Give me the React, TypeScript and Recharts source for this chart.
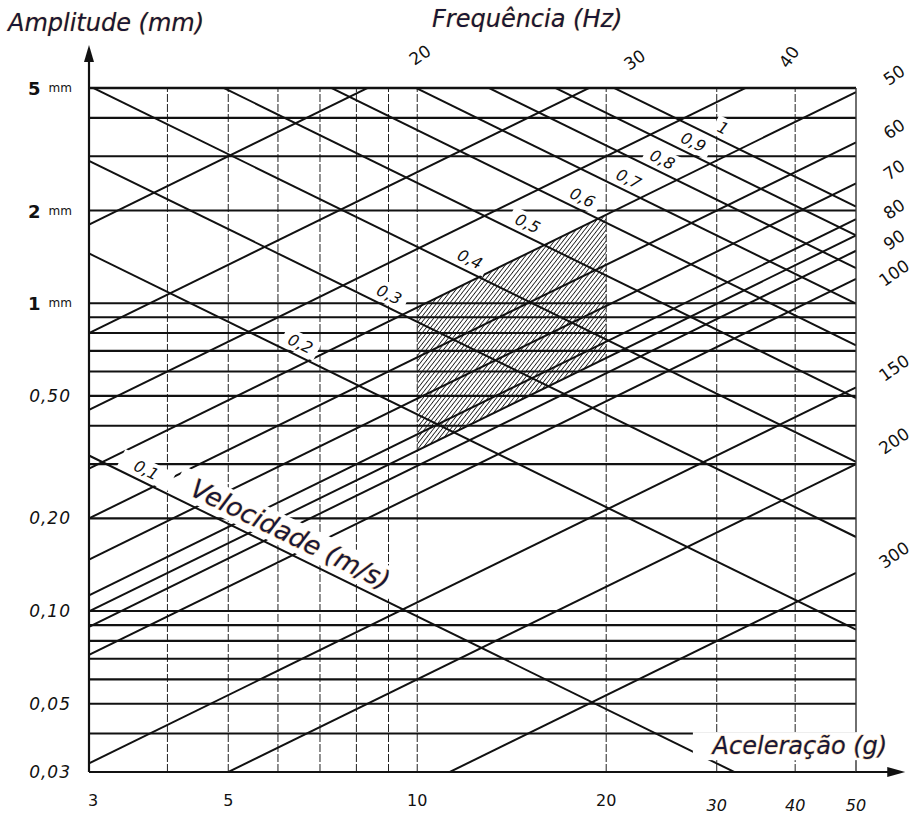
import { ComposedChart, Area, XAxis, YAxis, ReferenceLine, ReferenceDot } from 'recharts';

const ACCEL_MIN = 3;
const ACCEL_MAX = 50;
const AMP_MIN = 0.03;
const AMP_MAX = 5;

// acceleration (g)
const ACCEL_TICKS = [3, 5, 10, 20, 30, 40, 50];
const ACCEL_GRID = [4, 5, 6, 7, 8, 9, 10, 20, 30, 40];

// amplitude (mm)
const AMP_TICKS = [5, 2, 1, 0.5, 0.2, 0.1, 0.05, 0.03];
const AMP_TICK_LABELS = ['5 mm', '2 mm', '1 mm', '0,50', '0,20', '0,10', '0,05', '0,03'];
const AMP_GRID = [5, 4, 3, 2, 1, 0.9, 0.8, 0.7, 0.6, 0.5, 0.4, 0.3, 0.2, 0.1, 0.09, 0.08, 0.07, 0.06, 0.05, 0.04, 0.03];

// velocity lines (m/s): amplitude where each line meets 3 g and 50 g
const VEL_LABELS = ['0,1', '0,2', '0,3', '0,4', '0,5', '0,6', '0,7', '0,8', '0,9', '1'];
const VEL_AMP_AT_3G = [0.32, 1.45, 2.9, 5.08, 8.2, 12.17, 16.6, 21.7, 27.7, 34.3];
const VEL_AMP_AT_50G = [0.0192, 0.087, 0.174, 0.305, 0.492, 0.73, 0.996, 1.3, 1.66, 2.06];
const VEL_LABEL_ACCEL = [3.63, 6.39, 8.85, 11.9, 14.7, 17.97, 21.3, 24.1, 27.0, 30.1];

// frequency lines (Hz): amplitude where each line meets 3 g and 50 g
const FREQUENCIES = [20, 30, 40, 50, 60, 70, 80, 85, 90, 100, 150, 200, 300];
const FREQ_AMP_AT_3G = [1.8, 0.8, 0.45, 0.29, 0.2, 0.147, 0.1125, 0.0997, 0.0889, 0.072, 0.032, 0.018, 0.008];
const FREQ_AMP_AT_50G = [30, 13.3, 7.5, 4.85, 3.33, 2.45, 1.875, 1.66, 1.48, 1.2, 0.533, 0.3, 0.133];

// frequency labels outside the frame (top and right)
const FREQ_LABELS = ['20', '30', '40', '50', '60', '70', '80', '90', '100', '150', '200', '300'];
const FREQ_LABEL_ACCEL = [10.1, 22.2, 39.1, 57.5, 57.5, 57.5, 57.5, 57.5, 57.5, 57.5, 57.5, 57.5];
const FREQ_LABEL_AMP = [6.4, 6.17, 6.31, 5.51, 3.68, 2.71, 2.02, 1.605, 1.254, 0.616, 0.357, 0.152];

// hatched zone
const SHADE_ACCEL = [10, 20];
const SHADE_FREQ_TOP = 50;
const SHADE_FREQ_BOTTOM = 85;

const HAND = '"DejaVu Sans", sans-serif';
const INK = '#111';
const NAVY = '#16163a';

const onLine = (a: number, y3: number, y50: number) => {
  const t = Math.log(a / ACCEL_MIN) / Math.log(ACCEL_MAX / ACCEL_MIN);
  return Math.exp(Math.log(y3) + t * Math.log(y50 / y3));
};

const freqAmp = (f: number, a: number) => {
  const i = FREQUENCIES.indexOf(f);
  return onLine(a, FREQ_AMP_AT_3G[i], FREQ_AMP_AT_50G[i]);
};

const shadeData = SHADE_ACCEL.map((a) => ({
  a,
  band: [freqAmp(SHADE_FREQ_BOTTOM, a), freqAmp(SHADE_FREQ_TOP, a)],
}));

function Tag(props: any) {
  const { cx, cy, text, angle = 0, size = 14, dy = 0, bg = true, italic = false, navy = false, w } = props;
  const width = w ?? text.length * size * 0.62 + 8;
  const h = size + 4;
  return (
    <g transform={`translate(${cx},${cy}) rotate(${angle}) translate(0,${dy})`}>
      {bg && <rect x={-width / 2} y={-h / 2} width={width} height={h} fill="#fff" />}
      <text
        textAnchor="middle"
        dominantBaseline="central"
        fontFamily={HAND}
        fontSize={size}
        fontStyle={italic ? 'italic' : 'normal'}
        fill={navy ? NAVY : INK}
        stroke={navy ? '#e9a23b' : 'none'}
        strokeWidth={navy ? 1.2 : 0}
        strokeOpacity={0.55}
        paintOrder="stroke"
      >
        {text}
      </text>
    </g>
  );
}

function AmpTick({ x, y, payload }: any) {
  const label = AMP_TICK_LABELS[AMP_TICKS.indexOf(payload.value)] ?? '';
  if (label.endsWith('mm')) {
    return (
      <text x={x - 17} y={y} textAnchor="end" dominantBaseline="central" fontFamily={HAND} fill={INK}>
        <tspan fontSize={18} fontWeight={600}>{label.split(' ')[0]}</tspan>
        <tspan fontSize={12} dx={8}>mm</tspan>
      </text>
    );
  }
  return (
    <text x={x - 18} y={y} textAnchor="end" dominantBaseline="central" fontFamily={HAND} fontSize={17} fontStyle="italic" letterSpacing={1} fill={INK}>
      {label}
    </text>
  );
}

function AccelTick({ x, y, payload }: any) {
  const v = payload.value;
  const late = v >= 30;
  return (
    <text x={x + (v === 3 ? 4 : 0)} y={y + (late ? 33 : 28)} textAnchor="middle" dominantBaseline="central" fontFamily={HAND} fontSize={16} fontStyle={late ? 'italic' : 'normal'} fill={INK}>
      {v}
    </text>
  );
}

const titleStyle = {
  position: 'absolute' as const,
  fontFamily: HAND,
  fontStyle: 'italic',
  fontSize: 24,
  color: NAVY,
  textShadow: '0 0 1px #e9a23b',
  whiteSpace: 'nowrap' as const,
};

export default function App() {
  return (
    <div style={{ position: 'absolute', left: 0, top: 0, width: 915, height: 818, background: '#fff' }}>
      <div style={{ ...titleStyle, left: 8, top: 9 }}>Amplitude (mm)</div>
      <div style={{ ...titleStyle, left: 432, top: 5 }}>Frequência (Hz)</div>
      <ComposedChart width={915} height={818} data={shadeData} margin={{ top: 88, right: 59, bottom: 16, left: 29 }}>
        <defs>
          <pattern id="hatch" width="3.4" height="3.4" patternUnits="userSpaceOnUse" patternTransform="rotate(38)">
            <line x1="0" y1="0" x2="0" y2="3.4" stroke="#111" strokeWidth="1.6" />
          </pattern>
        </defs>
        <XAxis
          type="number"
          dataKey="a"
          scale="log"
          domain={[ACCEL_MIN, ACCEL_MAX]}
          allowDataOverflow
          ticks={ACCEL_TICKS}
          interval={0}
          axisLine={false}
          tickLine={false}
          tickSize={0}
          tickMargin={0}
          height={30}
          tick={<AccelTick />}
        />
        <YAxis
          type="number"
          scale="log"
          domain={[AMP_MIN, AMP_MAX]}
          allowDataOverflow
          ticks={AMP_TICKS}
          interval={0}
          axisLine={false}
          tickLine={false}
          tickSize={0}
          tickMargin={0}
          width={60}
          tick={<AmpTick />}
        />
        <Area dataKey="band" type="linear" stroke="none" fill="url(#hatch)" fillOpacity={1} isAnimationActive={false} />

        {ACCEL_GRID.map((a) => (
          <ReferenceLine key={`v${a}`} x={a} stroke="#222" strokeWidth={1} strokeDasharray="8 2" />
        ))}
        {AMP_GRID.map((A) => (
          <ReferenceLine key={`h${A}`} y={A} stroke={INK} strokeWidth={A === 5 ? 2.6 : 2.1} />
        ))}
        {VEL_LABELS.map((v, i) => (
          <ReferenceLine
            key={`vel${v}`}
            segment={[{ x: ACCEL_MIN, y: VEL_AMP_AT_3G[i] }, { x: ACCEL_MAX, y: VEL_AMP_AT_50G[i] }]}
            ifOverflow="hidden"
            stroke={INK}
            strokeWidth={2}
          />
        ))}
        {FREQUENCIES.map((f, i) => (
          <ReferenceLine
            key={`f${f}`}
            segment={[{ x: ACCEL_MIN, y: FREQ_AMP_AT_3G[i] }, { x: ACCEL_MAX, y: FREQ_AMP_AT_50G[i] }]}
            ifOverflow="hidden"
            stroke={INK}
            strokeWidth={2}
          />
        ))}

        {/* frame and axis arrows */}
        <ReferenceLine x={ACCEL_MIN} stroke={INK} strokeWidth={2.2} />
        <ReferenceLine x={ACCEL_MAX} stroke="#333" strokeWidth={1.4} />
        <ReferenceLine segment={[{ x: ACCEL_MIN, y: AMP_MAX }, { x: ACCEL_MIN, y: 6.6 }]} ifOverflow="visible" stroke={INK} strokeWidth={2.2} />
        <ReferenceLine segment={[{ x: ACCEL_MAX, y: AMP_MIN }, { x: 58, y: AMP_MIN }]} ifOverflow="visible" stroke={INK} strokeWidth={2} />
        <ReferenceDot
          x={ACCEL_MIN}
          y={6.9}
          r={0}
          ifOverflow="visible"
          shape={(p: any) => <polygon points={`${p.cx},${p.cy} ${p.cx - 5},${p.cy + 17} ${p.cx + 5},${p.cy + 17}`} fill={INK} />}
        />
        <ReferenceDot
          x={59.9}
          y={AMP_MIN}
          r={0}
          ifOverflow="visible"
          shape={(p: any) => <polygon points={`${p.cx},${p.cy} ${p.cx - 18},${p.cy - 5} ${p.cx - 18},${p.cy + 5}`} fill={INK} />}
        />

        {/* velocity labels */}
        {VEL_LABELS.map((v, i) => {
          const a = VEL_LABEL_ACCEL[i];
          return (
            <ReferenceDot
              key={`vl${v}`}
              x={a}
              y={onLine(a, VEL_AMP_AT_3G[i], VEL_AMP_AT_50G[i])}
              r={0}
              ifOverflow="visible"
              shape={(p: any) => <Tag {...p} text={v} angle={26} size={16} dy={-12} italic w={i === 0 ? 56 : undefined} />}
            />
          );
        })}
        <ReferenceDot
          x={6.1}
          y={onLine(6.1, VEL_AMP_AT_3G[0], VEL_AMP_AT_50G[0])}
          r={0}
          ifOverflow="visible"
          shape={(p: any) => <Tag {...p} text="Velocidade (m/s)" angle={26} size={26} dy={-18} italic navy w={250} />}
        />
        <ReferenceDot
          x={40.7}
          y={0.0364}
          r={0}
          ifOverflow="visible"
          shape={(p: any) => <Tag {...p} text="Aceleração (g)" size={24} italic navy w={214} />}
        />

        {/* frequency labels */}
        {FREQ_LABELS.map((f, i) => (
          <ReferenceDot
            key={`fl${f}`}
            x={FREQ_LABEL_ACCEL[i]}
            y={FREQ_LABEL_AMP[i]}
            r={0}
            ifOverflow="visible"
            shape={(p: any) => <Tag {...p} text={f} angle={i === 2 ? -55 : -35} size={17} bg={false} />}
          />
        ))}
      </ComposedChart>
    </div>
  );
}
